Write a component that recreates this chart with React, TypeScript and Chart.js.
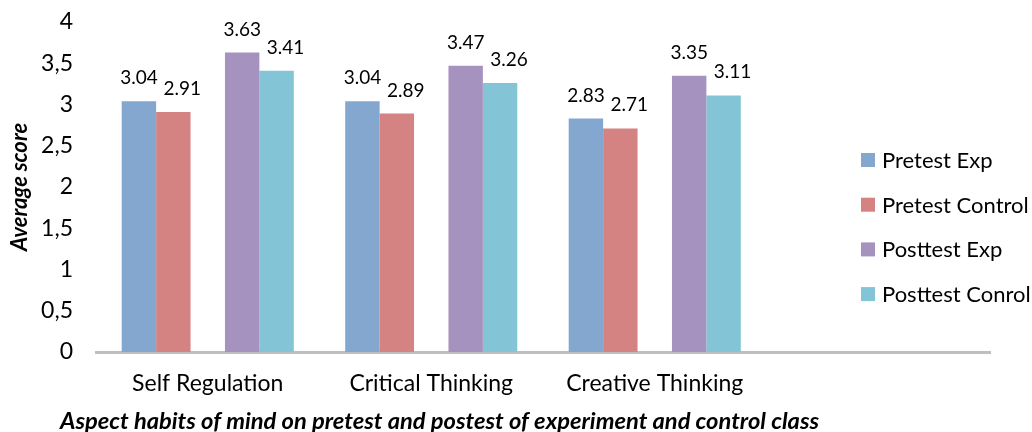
import React, { useEffect, useRef } from "react";
import { Chart, registerables } from "chart.js";

Chart.register(...registerables);

const categories = ["Self Regulation", "Critical Thinking", "Creative Thinking", ""];
const pretestExp = [3.04, 3.04, 2.83, null];
const pretestControl = [2.91, 2.89, 2.71, null];
const posttestExp = [3.63, 3.47, 3.35, null];
const posttestControl = [3.41, 3.26, 3.11, null];
const seriesNames = ["Pretest Exp", "Pretest Control", "Posttest Exp", "Posttest Conrol"];
const seriesColors = ["#84A7D0", "#D48282", "#A692BF", "#83C5D6"];
const yTicks = [0, 0.5, 1, 1.5, 2, 2.5, 3, 3.5, 4];
const yTitle = "Average score";
const xTitle = "Aspect habits of mind on pretest and postest of experiment and control class";

const FONT = "Lato, 'Open Sans', sans-serif";

const labelsPlugin = {
  id: "barLabels",
  afterDatasetsDraw(chart: any) {
    const ctx = chart.ctx;
    ctx.save();
    ctx.font = `19px ${FONT}`;
    ctx.fillStyle = "#000";
    ctx.textAlign = "center";
    ctx.textBaseline = "alphabetic";
    chart.data.datasets.forEach((ds: any, di: number) => {
      if (ds.spacer) return;
      const meta = chart.getDatasetMeta(di);
      const dx = ds.labelShift || 0;
      meta.data.forEach((bar: any, i: number) => {
        const v = ds.data[i];
        if (v == null) return;
        ctx.fillText(v.toFixed(2), bar.x + dx, bar.y - 17);
      });
    });
    ctx.restore();
  },
};

const legendPlugin = {
  id: "customLegend",
  afterDraw(chart: any) {
    const ctx = chart.ctx;
    ctx.save();
    ctx.font = `22px ${FONT}`;
    ctx.textBaseline = "middle";
    ctx.textAlign = "left";
    const items = chart.data.datasets.filter((d: any) => !d.spacer);
    items.forEach((ds: any, i: number) => {
      const cy = 160 + i * 44.7;
      ctx.fillStyle = ds.backgroundColor;
      ctx.fillRect(861, cy - 7, 14, 14);
      ctx.fillStyle = "#000";
      ctx.fillText(ds.label, 882, cy + 1);
    });
    ctx.font = `italic bold 23.7px ${FONT}`;
    ctx.fillText(xTitle, 60, 421);
    ctx.restore();
  },
};

export default function App() {
  const ref = useRef<HTMLCanvasElement | null>(null);
  useEffect(() => {
    if (!ref.current) return;
    const series = [pretestExp, pretestControl, posttestExp, posttestControl];
    const datasets: any[] = [];
    series.forEach((s, i) => {
      if (i === 2) {
        datasets.push({ label: "", data: categories.map(() => null), spacer: true, backgroundColor: "rgba(0,0,0,0)" });
      }
      datasets.push({
        label: seriesNames[i],
        data: s,
        backgroundColor: seriesColors[i],
        borderWidth: 0,
        labelShift: i % 2 === 1 ? 9 : 0,
      });
    });
    const chart = new Chart(ref.current, {
      type: "bar",
      data: { labels: categories, datasets },
      options: {
        animation: false,
        responsive: false,
        maintainAspectRatio: false,
        layout: { padding: { left: 0, right: 42, top: 22, bottom: 0 } },
        plugins: { legend: { display: false }, tooltip: { enabled: false } },
        datasets: { bar: { barPercentage: 1, categoryPercentage: 0.77 } },
        scales: {
          x: {
            grid: { display: false, drawTicks: false },
            border: { display: true, color: "#BFBFBF", width: 3 },
            ticks: { color: "#000", font: { family: FONT, size: 23 }, padding: 18, maxRotation: 0 },
            afterFit: (s: any) => { s.height = 80; s.paddingLeft = 0; s.paddingRight = 0; },
          },
          y: {
            min: 0,
            max: 4,
            afterBuildTicks: (s: any) => { s.ticks = yTicks.map((v) => ({ value: v })); },
            grid: { display: false, drawTicks: false },
            border: { display: false },
            ticks: {
              color: "#000",
              font: { family: FONT, size: 23 },
              padding: 23,
              callback: (v: any) => String(v).replace(".", ","),
            },
            title: {
              display: true,
              text: yTitle,
              color: "#000",
              font: { family: FONT, size: 22, style: "italic", weight: "bold" },
              padding: { top: 7, bottom: 0 },
            },
            afterFit: (s: any) => { s.width = 96; s.paddingTop = 0; s.paddingBottom = 0; },
          },
        },
      },
      plugins: [labelsPlugin, legendPlugin],
    } as any);
    return () => chart.destroy();
  }, []);
  return (
    <div style={{ position: "absolute", left: 0, top: 0, width: 1032, height: 432, background: "#fff" }}>
      <canvas ref={ref} width={1032} height={432} style={{ display: "block" }} />
    </div>
  );
}
